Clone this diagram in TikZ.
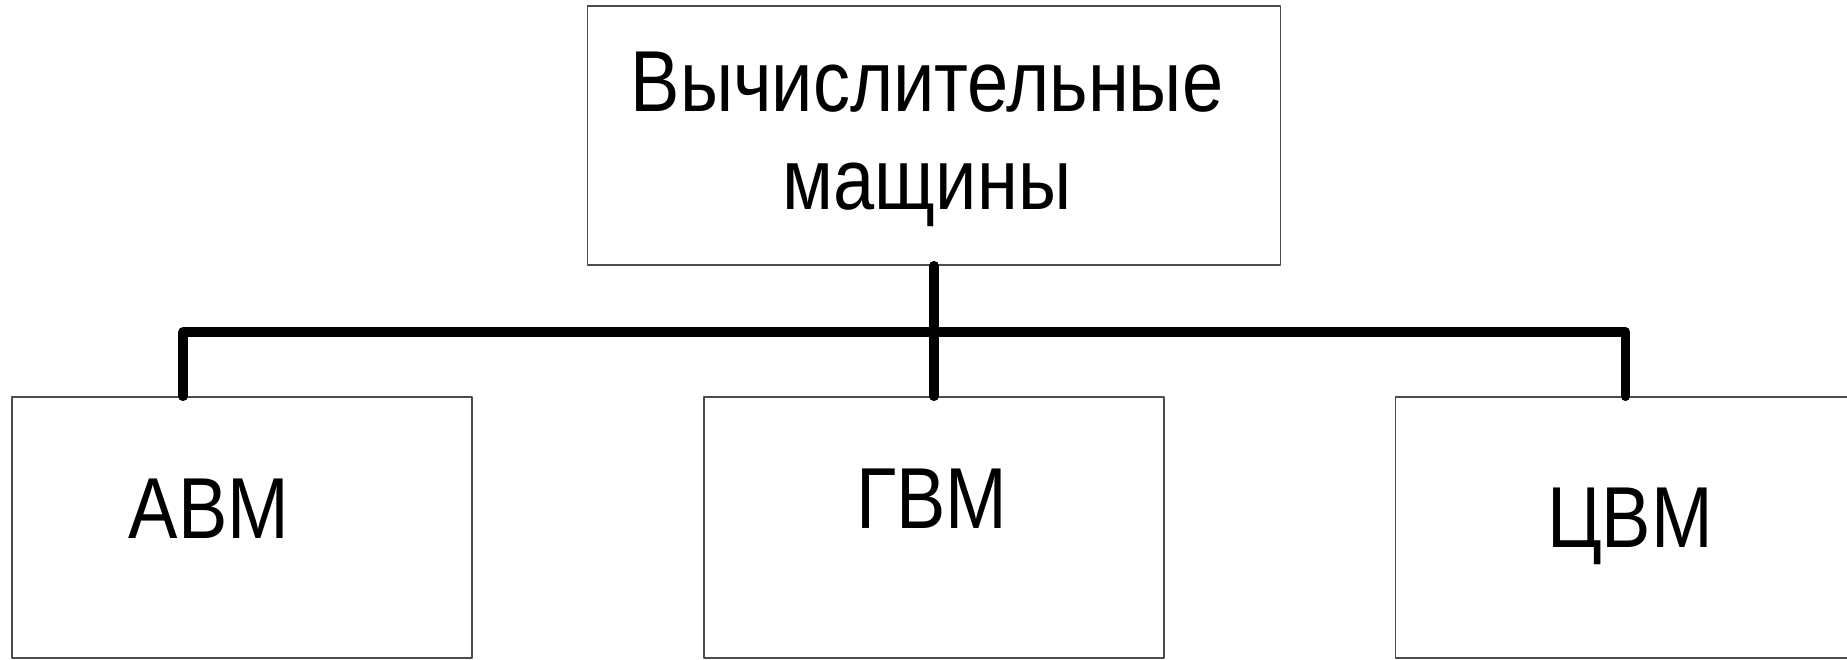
\documentclass[tikz,border=0pt]{standalone}
\usepackage{fontspec}
\setmainfont{Liberation Sans}
\newcommand{\tall}[1]{\scalebox{1}[1.17]{#1}}

\begin{document}
\begin{tikzpicture}[line cap=round,line join=round,x=0.5pt,y=0.5pt,
    box/.style={draw=black!70,line width=0.65pt,inner sep=0pt,
      minimum width=230pt,minimum height=130.5pt},
    lbl/.style={anchor=base,inner sep=0pt,font=\fontsize{37}{49}\selectfont},
    link/.style={line width=4.7pt}]
      \fill[white] (0,0) rectangle (1847,659);
      \useasboundingbox (0,0) rectangle (1847,659);

      % boxes
      \node[box,minimum width=346.5pt,minimum height=129.5pt] (vm) at (934,523.5) {};
      \node[box] (abm) at (242,131.5) {};
      \node[box] (gvm) at (934,131.5) {};
      \node[box] (cvm) at (1625.5,131.5) {};

      % texts
      \node[lbl,align=center] (vmtext) at (927,449) {\tall{Вычислительные}\\\tall{мащины}};
      \node[lbl] (abmtext) at (209,120) {\tall{АВМ}};
      \node[lbl] (gvmtext) at (932,130) {\tall{ГВМ}};
      \node[lbl] (cvmtext) at (1630,112) {\tall{ЦВМ}};

      % connectors
      \coordinate (lft) at (183,327);
      \coordinate (rgt) at (cvm.north |- lft);
      \draw[link] (vm.south) -- (gvm.north);
      \draw[link] (abm.north -| lft) -- (lft) -- (rgt) -- (cvm.north);
    \end{tikzpicture}
\end{document}
